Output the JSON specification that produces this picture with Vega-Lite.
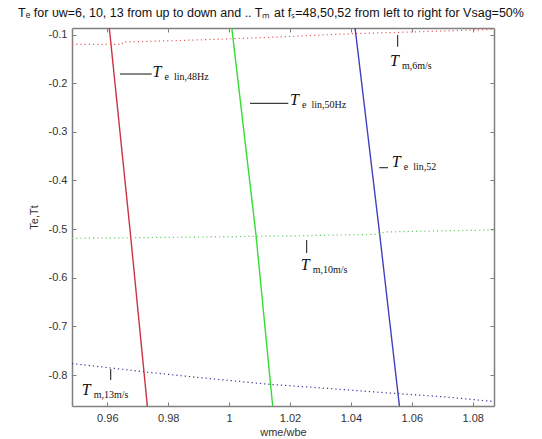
{
  "$schema": "https://vega.github.io/schema/vega-lite/v6.json",
  "autosize": "none",
  "width": 422,
  "height": 378,
  "padding": {"left": 72, "top": 28, "right": 48, "bottom": 33},
  "background": "white",
  "config": {"view": {"stroke": null}},
  "title": {
    "text": "Tₑ for υw=6, 10, 13 from up to down and .. Tₘ at fₛ=48,50,52 from left to right for Vsag=50%",
    "font": "Liberation Sans",
    "fontSize": 12.5,
    "fontWeight": "normal",
    "color": "#111",
    "offset": 8,
    "dx": -12
  },
  "datasets": {
    "curves": [
      {"curve": "Te48", "kind": "Te", "x": 0.96066, "y": -0.0866},
      {"curve": "Te48", "kind": "Te", "x": 0.96746, "y": -0.5019},
      {"curve": "Te48", "kind": "Te", "x": 0.97314, "y": -0.8637},
      {"curve": "Te50", "kind": "Te", "x": 1.00089, "y": -0.0866},
      {"curve": "Te50", "kind": "Te", "x": 1.00883, "y": -0.5122},
      {"curve": "Te50", "kind": "Te", "x": 1.01431, "y": -0.8637},
      {"curve": "Te52", "kind": "Te", "x": 1.04138, "y": -0.0866},
      {"curve": "Te52", "kind": "Te", "x": 1.04936, "y": -0.5054},
      {"curve": "Te52", "kind": "Te", "x": 1.05593, "y": -0.8637},
      {"curve": "Tm6", "kind": "Tm", "x": 0.9484, "y": -0.1201},
      {"curve": "Tm6", "kind": "Tm", "x": 0.9648, "y": -0.1201},
      {"curve": "Tm6", "kind": "Tm", "x": 0.9652, "y": -0.1154},
      {"curve": "Tm6", "kind": "Tm", "x": 0.9839, "y": -0.1123},
      {"curve": "Tm6", "kind": "Tm", "x": 1.0102, "y": -0.1066},
      {"curve": "Tm6", "kind": "Tm", "x": 1.0233, "y": -0.1031},
      {"curve": "Tm6", "kind": "Tm", "x": 1.0397, "y": -0.0984},
      {"curve": "Tm6", "kind": "Tm", "x": 1.0594, "y": -0.0949},
      {"curve": "Tm6", "kind": "Tm", "x": 1.087, "y": -0.0893},
      {"curve": "Tm10", "kind": "Tm", "x": 0.9484, "y": -0.519},
      {"curve": "Tm10", "kind": "Tm", "x": 0.9904, "y": -0.5163},
      {"curve": "Tm10", "kind": "Tm", "x": 1.0233, "y": -0.5137},
      {"curve": "Tm10", "kind": "Tm", "x": 1.0486, "y": -0.5108},
      {"curve": "Tm10", "kind": "Tm", "x": 1.0512, "y": -0.506},
      {"curve": "Tm10", "kind": "Tm", "x": 1.066, "y": -0.504},
      {"curve": "Tm10", "kind": "Tm", "x": 1.087, "y": -0.5019},
      {"curve": "Tm13", "kind": "Tm", "x": 0.9484, "y": -0.7764},
      {"curve": "Tm13", "kind": "Tm", "x": 0.97182, "y": -0.7932},
      {"curve": "Tm13", "kind": "Tm", "x": 0.98936, "y": -0.8048},
      {"curve": "Tm13", "kind": "Tm", "x": 1.01343, "y": -0.8192},
      {"curve": "Tm13", "kind": "Tm", "x": 1.03205, "y": -0.8274},
      {"curve": "Tm13", "kind": "Tm", "x": 1.05392, "y": -0.8377},
      {"curve": "Tm13", "kind": "Tm", "x": 1.07034, "y": -0.8447},
      {"curve": "Tm13", "kind": "Tm", "x": 1.087, "y": -0.8545}
    ],
    "leaders": [
      {"x": 0.96418, "x2": 0.97458, "y": -0.18121, "y2": -0.18121},
      {"x": 1.00686, "x2": 1.01944, "y": -0.24145, "y2": -0.24145},
      {"x": 1.04933, "x2": 1.05218, "y": -0.37385, "y2": -0.37385},
      {"x": 1.05537, "x2": 1.05537, "y": -0.10103, "y2": -0.12508},
      {"x": 1.02548, "x2": 1.02548, "y": -0.52249, "y2": -0.54922},
      {"x": 0.96112, "x2": 0.96112, "y": -0.78771, "y2": -0.81032}
    ],
    "labels": [
      {"x": 0.97484, "y": -0.18738, "main": "T", "sub": "e\u00a0\u00a0lin,48Hz"},
      {"x": 1.02, "y": -0.24494, "main": "T", "sub": "e\u00a0\u00a0lin,50Hz"},
      {"x": 1.0534, "y": -0.37138, "main": "T", "sub": "e\u00a0\u00a0lin,52"},
      {"x": 1.05284, "y": -0.16476, "main": "T", "sub": "m,6m/s"},
      {"x": 1.02351, "y": -0.58417, "main": "T", "sub": "m,10m/s"},
      {"x": 0.95159, "y": -0.8412, "main": "T", "sub": "m,13m/s"}
    ]
  },
  "resolve": {"axis": {"x": "independent", "y": "independent"}},
  "layer": [
    {
      "data": {"name": "curves"},
      "mark": {"type": "line", "clip": true},
      "encoding": {
        "x": {
          "field": "x", "type": "quantitative",
          "scale": {"domain": [0.9484, 1.087], "nice": false, "zero": false},
          "axis": {
            "orient": "bottom",
            "title": "wme/wbe",
            "values": [0.96, 0.98, 1, 1.02, 1.04, 1.06, 1.08],
            "format": "~g",
            "grid": false,
            "tickSize": -4,
            "labelPadding": 10,
            "labelFont": "Liberation Sans",
            "labelFontSize": 11,
            "labelColor": "#333",
            "titleFont": "Liberation Sans",
            "titleFontSize": 11,
            "titleFontWeight": "normal",
            "titleColor": "#333",
            "titlePadding": 3,
            "domainColor": "#808080",
            "domainWidth": 1.5,
            "tickColor": "#808080",
            "labelFlush": false
          }
        },
        "y": {
          "field": "y", "type": "quantitative",
          "scale": {"domain": [-0.8637, -0.0866], "nice": false, "zero": false},
          "axis": {
            "orient": "left",
            "title": "Te,Tt",
            "values": [-0.1, -0.2, -0.3, -0.4, -0.5, -0.6, -0.7, -0.8],
            "labelExpr": "replace(format(datum.value, '~g'), '\u2212', '-')",
            "grid": false,
            "tickSize": -4,
            "labelPadding": 9,
            "labelFont": "Liberation Sans",
            "labelFontSize": 11,
            "labelColor": "#333",
            "titleFont": "Liberation Sans",
            "titleFontSize": 11,
            "titleFontWeight": "normal",
            "titleColor": "#333",
            "titlePadding": 9,
            "domainColor": "#808080",
            "domainWidth": 1.5,
            "tickColor": "#808080",
            "labelFlush": false
          }
        },
        "detail": {"field": "curve"},
        "color": {
          "field": "curve", "type": "nominal", "legend": null,
          "scale": {
            "domain": ["Te48", "Te50", "Te52", "Tm6", "Tm10", "Tm13"],
            "range": ["#cc3344", "#33dd33", "#4040c0", "#e06060", "#66cc66", "#333399"]
          }
        },
        "strokeDash": {
          "field": "kind", "type": "nominal", "legend": null,
          "scale": {"domain": ["Te", "Tm"], "range": [[1, 0], [1.2, 3]]}
        },
        "strokeWidth": {
          "field": "kind", "type": "nominal", "legend": null,
          "scale": {"domain": ["Te", "Tm"], "range": [1.4, 1.2]}
        }
      }
    },
    {
      "data": {"name": "leaders"},
      "mark": {"type": "rule", "color": "#111", "strokeWidth": 1},
      "encoding": {
        "x": {"field": "x", "type": "quantitative", "axis": {"orient": "top", "title": null, "labels": false, "values": [0.96, 0.98, 1, 1.02, 1.04, 1.06, 1.08], "grid": false, "tickSize": -4, "domainColor": "#808080", "domainWidth": 1.5, "tickColor": "#808080"}},
        "x2": {"field": "x2"},
        "y": {"field": "y", "type": "quantitative", "axis": {"orient": "right", "title": null, "labels": false, "values": [-0.1, -0.2, -0.3, -0.4, -0.5, -0.6, -0.7, -0.8], "grid": false, "tickSize": -4, "domainColor": "#808080", "domainWidth": 1.5, "tickColor": "#808080"}},
        "y2": {"field": "y2"}
      }
    },
    {
      "data": {"name": "labels"},
      "mark": {"type": "text", "font": "Liberation Serif", "fontStyle": "italic", "fontSize": 16, "align": "left", "baseline": "alphabetic", "color": "#111"},
      "encoding": {
        "x": {"field": "x", "type": "quantitative", "axis": null},
        "y": {"field": "y", "type": "quantitative", "axis": null},
        "text": {"field": "main"}
      }
    },
    {
      "data": {"name": "labels"},
      "mark": {"type": "text", "font": "Liberation Serif", "fontSize": 10, "align": "left", "baseline": "alphabetic", "dx": 12, "dy": 3, "color": "#111"},
      "encoding": {
        "x": {"field": "x", "type": "quantitative", "axis": null},
        "y": {"field": "y", "type": "quantitative", "axis": null},
        "text": {"field": "sub"}
      }
    }
  ]
}
